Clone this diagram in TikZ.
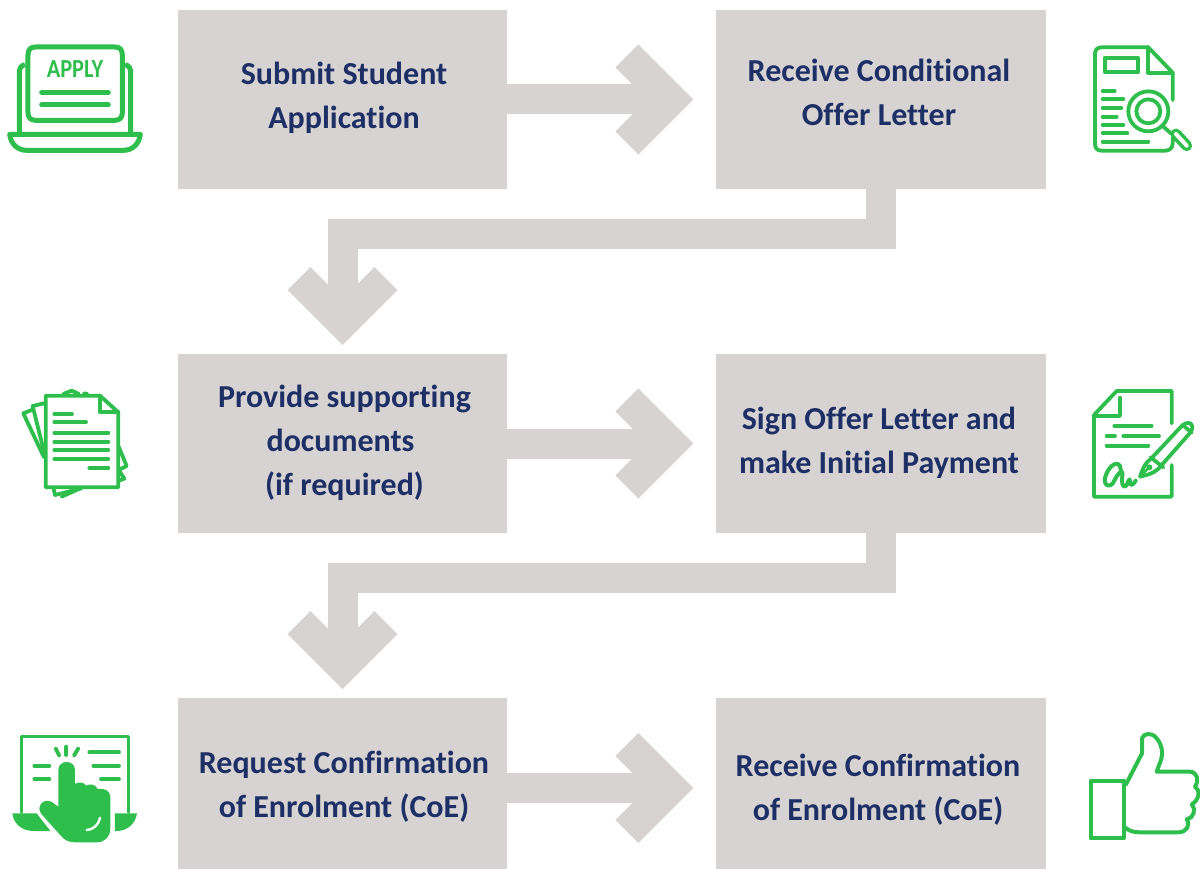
\documentclass[tikz,border=0pt]{standalone}
\usepackage{fontspec}
\setmainfont[Ligatures=NoCommon]{Carlito}
\usetikzlibrary{arrows.meta}
\definecolor{boxgrey}{HTML}{D6D3D2}
\definecolor{navy}{HTML}{1E2F66}
\definecolor{icongreen}{HTML}{2DBE4B}
\tikzset{
  stepbox/.style={fill=boxgrey,draw=none,minimum width=329.5pt,inner sep=0pt,outer sep=0pt},
  steptext/.style={text=navy,font=\fontsize{32}{44}\selectfont\bfseries,align=center,inner sep=0pt},
  flowline/.style={draw=boxgrey,line width=30pt,line join=miter,
    -{Straight Barb[length=43.5pt,width=87pt,line width=32.5pt]}},
  ic/.style={draw=icongreen,line width=3.8pt,line cap=round,line join=round},
  zoomed/.style={x=0.33333pt,y=-0.33333pt}
}
\begin{document}
\begin{tikzpicture}[x=1pt,y=-1pt]
\useasboundingbox (0,0) rectangle (1200,869);
% boxes
\node[stepbox,minimum height=179pt] (n1) at (342.5,99.5) {};
\node[stepbox,minimum height=179pt] (n2) at (881,99.5) {};
\node[stepbox,minimum height=179pt] (n3) at (342.5,443.5) {};
\node[stepbox,minimum height=179pt] (n4) at (881,443.5) {};
\node[stepbox,minimum height=171pt] (n5) at (342.5,783.5) {};
\node[stepbox,minimum height=171pt] (n6) at (881,783.5) {};
% connectors
\draw[flowline,shorten >=23pt] (n1.east) -- (n2.west);
\draw[flowline,shorten >=23pt] (n3.east) -- (n4.west);
\draw[flowline,shorten >=23pt] (n5.east |- 788,788) -- (n6.west |- 788,788);
\draw[flowline,shorten >=9pt] (n2.south) -- ++(0,45) -| (n3.north);
\draw[flowline,shorten >=9pt] (n4.south) -- ++(0,45) -| (n5.north);
% texts
\node[steptext] (t1) at (344,98) {Submit Student\\Application};
\node[steptext] (t2) at (879,92) {Receive Conditional\\Offer Letter};
\node[steptext] (t3) at (344.5,443) {Provide supporting\\\mbox{documents\hspace{8pt}}\\(if required)};
\node[steptext] (t4) at (879,443) {Sign Offer Letter and\\make Initial Payment};
\node[steptext] (t5) at (344,787) {Request Confirmation\\of Enrolment (CoE)};
\node[steptext] (t6) at (878,790) {Receive Confirmation\\of Enrolment (CoE)};

% icon 1: laptop
\begin{scope}[shift={(0,30)},zoomed]
\draw[ic,line width=5pt] (84,75) .. controls (84,58) and (92,51) .. (107,51) -- (344,51)
  .. controls (359,51) and (367,58) .. (367,75) -- (367,248)
  .. controls (367,263) and (359,271) .. (344,271) -- (107,271)
  .. controls (92,271) and (84,263) .. (84,248) -- cycle;
\draw[ic,line width=5pt,line cap=butt] (75,104) .. controls (64,106) and (58,114) .. (58,128) -- (58,312);
\draw[ic,line width=5pt,line cap=butt] (375,104) .. controls (386,106) and (392,114) .. (392,128) -- (392,312);
\draw[ic,line width=5pt] (29,313) -- (421,313) .. controls (417,345) and (395,361) .. (370,361)
  -- (80,361) .. controls (55,361) and (33,345) .. (29,313) -- cycle;
\node[text=icongreen,font=\fontsize{26}{26}\selectfont\bfseries,inner sep=0pt,xscale=0.86] (applytext) at (225,116) {APPLY};
\draw[ic,line width=5pt] (125,187) -- (325,187);
\draw[ic,line width=5pt] (125,225) -- (325,225);
\end{scope}

% icon 2: document with magnifier
\begin{scope}[shift={(1080,30)},zoomed]
\draw[ic] (278,210) -- (278,128) -- (205,52) -- (65,52)
  .. controls (52,52) and (45,59) .. (45,72) -- (45,342)
  .. controls (45,355) and (52,362) .. (65,362) -- (255,362)
  .. controls (268,362) and (278,355) .. (278,340) -- (278,322);
\draw[ic] (205,52) -- (205,128) -- (278,128);
\draw[ic] (76,83) rectangle (174,127);
\draw[ic] (68,183) -- (104,183);
\draw[ic] (68,208) -- (130,208);
\draw[ic] (68,234) -- (124,234);
\draw[ic] (68,260) -- (110,260);
\draw[ic] (68,285) -- (130,285);
\draw[ic] (68,310) -- (142,310);
\draw[ic] (68,335) -- (205,335);
\draw[ic] (205,244) circle [radius=60];
\draw[ic] (205,244) circle [radius=36];
\draw[ic] (250,290) -- (275,312);
\draw[ic,line cap=round,line width=11pt] (288,312) -- (320,347);
\draw[draw=white,line width=4pt,line cap=round] (288,312) -- (320,347);
\end{scope}

% icon 3: papers
\begin{scope}[shift={(10,380)},zoomed]
\draw[ic] (102,70) -- (68,78) -- (102,215);
\draw[ic] (70,88) -- (40,100) -- (102,232);
\draw[ic] (160,42) -- (185,32) -- (207,42);
\draw[ic] (222,40) -- (232,42);
\draw[ic] (326,200) -- (350,258) -- (326,270);
\draw[ic] (326,270) -- (343,296) -- (326,302);
\draw[ic] (130,322) -- (135,345) -- (215,325);
\draw[ic] (155,350) -- (200,330);
\draw[ic,fill=white] (107,47) -- (270,47) -- (325,97) -- (325,322) -- (107,322) -- cycle;
\draw[ic] (270,47) -- (270,97) -- (325,97);
\draw[ic] (133,102) -- (186,102);
\draw[ic] (133,127) -- (228,127);
\draw[ic] (133,158) -- (295,158);
\draw[ic] (133,185) -- (295,185);
\draw[ic] (133,210) -- (295,210);
\draw[ic] (133,237) -- (295,237);
\draw[ic] (238,264) -- (295,264);
\end{scope}

% icon 4: signing
\begin{scope}[shift={(1080,380)},zoomed]
\draw[ic] (275,130) -- (275,33) -- (110,33) -- (42,105) -- (42,350) -- (275,350) -- (275,255);
\draw[ic] (42,108) -- (120,108) -- (120,53);
\draw[ic] (103,137) -- (215,137);
\draw[ic] (80,167) -- (105,167);
\draw[ic] (130,167) -- (237,167);
\draw[ic] (80,197) -- (205,197);
\draw[ic] (217,232) -- (305,138) .. controls (318,125) and (335,125) .. (337,140)
  .. controls (338,150) and (330,160) .. (322,168) -- (245,255);
\draw[ic] (308,135) -- (335,158);
\draw[ic] (212,232) -- (250,262);
\draw[ic] (215,235) .. controls (200,245) and (192,255) .. (180,290)
  .. controls (215,282) and (230,275) .. (245,255);
\draw[ic,line width=2.4pt] (182,288) -- (208,262);
\fill[icongreen] (208,262) circle [radius=9];
\draw[ic,line width=4pt] (122,268) .. controls (122,250) and (108,246) .. (95,258)
  .. controls (80,272) and (70,300) .. (76,310)
  .. controls (82,322) and (98,318) .. (104,300)
  .. controls (110,285) and (125,270) .. (127,276)
  .. controls (128,290) and (122,318) .. (133,320)
  .. controls (143,320) and (143,300) .. (149,298)
  .. controls (149,312) and (152,326) .. (167,302);
\end{scope}

% icon 5: touch screen
\begin{scope}[shift={(5,725)},zoomed]
\draw[ic,line width=3pt] (50,262) -- (50,33) -- (370,33) -- (370,262);
\fill[icongreen] (22,265) -- (95,265) -- (136,318) -- (85,318)
  .. controls (50,318) and (25,295) .. (22,265) -- cycle;
\fill[icongreen] (330,265) -- (396,265) .. controls (392,295) and (368,318) .. (335,318) -- (330,318) -- cycle;
\draw[ic] (253,82) -- (342,82);
\draw[ic] (265,122) -- (342,122);
\draw[ic] (288,163) -- (342,163);
\draw[ic] (88,122) -- (133,122);
\draw[ic] (88,163) -- (133,163);
\draw[ic] (152,70) -- (163,92);
\draw[ic] (184,65) -- (184,90);
\draw[ic] (220,70) -- (207,92);
\fill[icongreen] (160,135) .. controls (160,103) and (210,103) .. (210,135) -- (210,176)
  .. controls (225,170) and (238,172) .. (243,182)
  .. controls (255,175) and (272,178) .. (278,192)
  .. controls (298,188) and (316,198) .. (316,215) -- (316,310)
  .. controls (316,335) and (300,352) .. (275,352) -- (210,352)
  .. controls (190,352) and (180,345) .. (170,335) -- (110,268)
  .. controls (90,245) and (118,215) .. (142,232) -- (160,245) -- cycle;
\draw[draw=white,line width=2.4pt,line cap=round] (245,315) .. controls (268,312) and (280,300) .. (285,278);
\end{scope}

% icon 6: thumbs up
\begin{scope}[shift={(1080,725)},zoomed]
\draw[ic,line width=4pt] (32,167) rectangle (132,340);
\draw[ic,line width=4pt] (138,178) -- (186,85) -- (186,40)
  .. controls (190,25) and (215,20) .. (230,40)
  .. controls (245,58) and (250,80) .. (243,105) -- (230,140) -- (330,140)
  .. controls (352,142) and (358,165) .. (345,185)
  .. controls (362,195) and (358,225) .. (335,238)
  .. controls (350,255) and (340,280) .. (320,283)
  .. controls (332,300) and (320,322) .. (295,322) -- (180,322)
  .. controls (160,322) and (150,318) .. (135,308);
\end{scope}
\end{tikzpicture}
\end{document}
